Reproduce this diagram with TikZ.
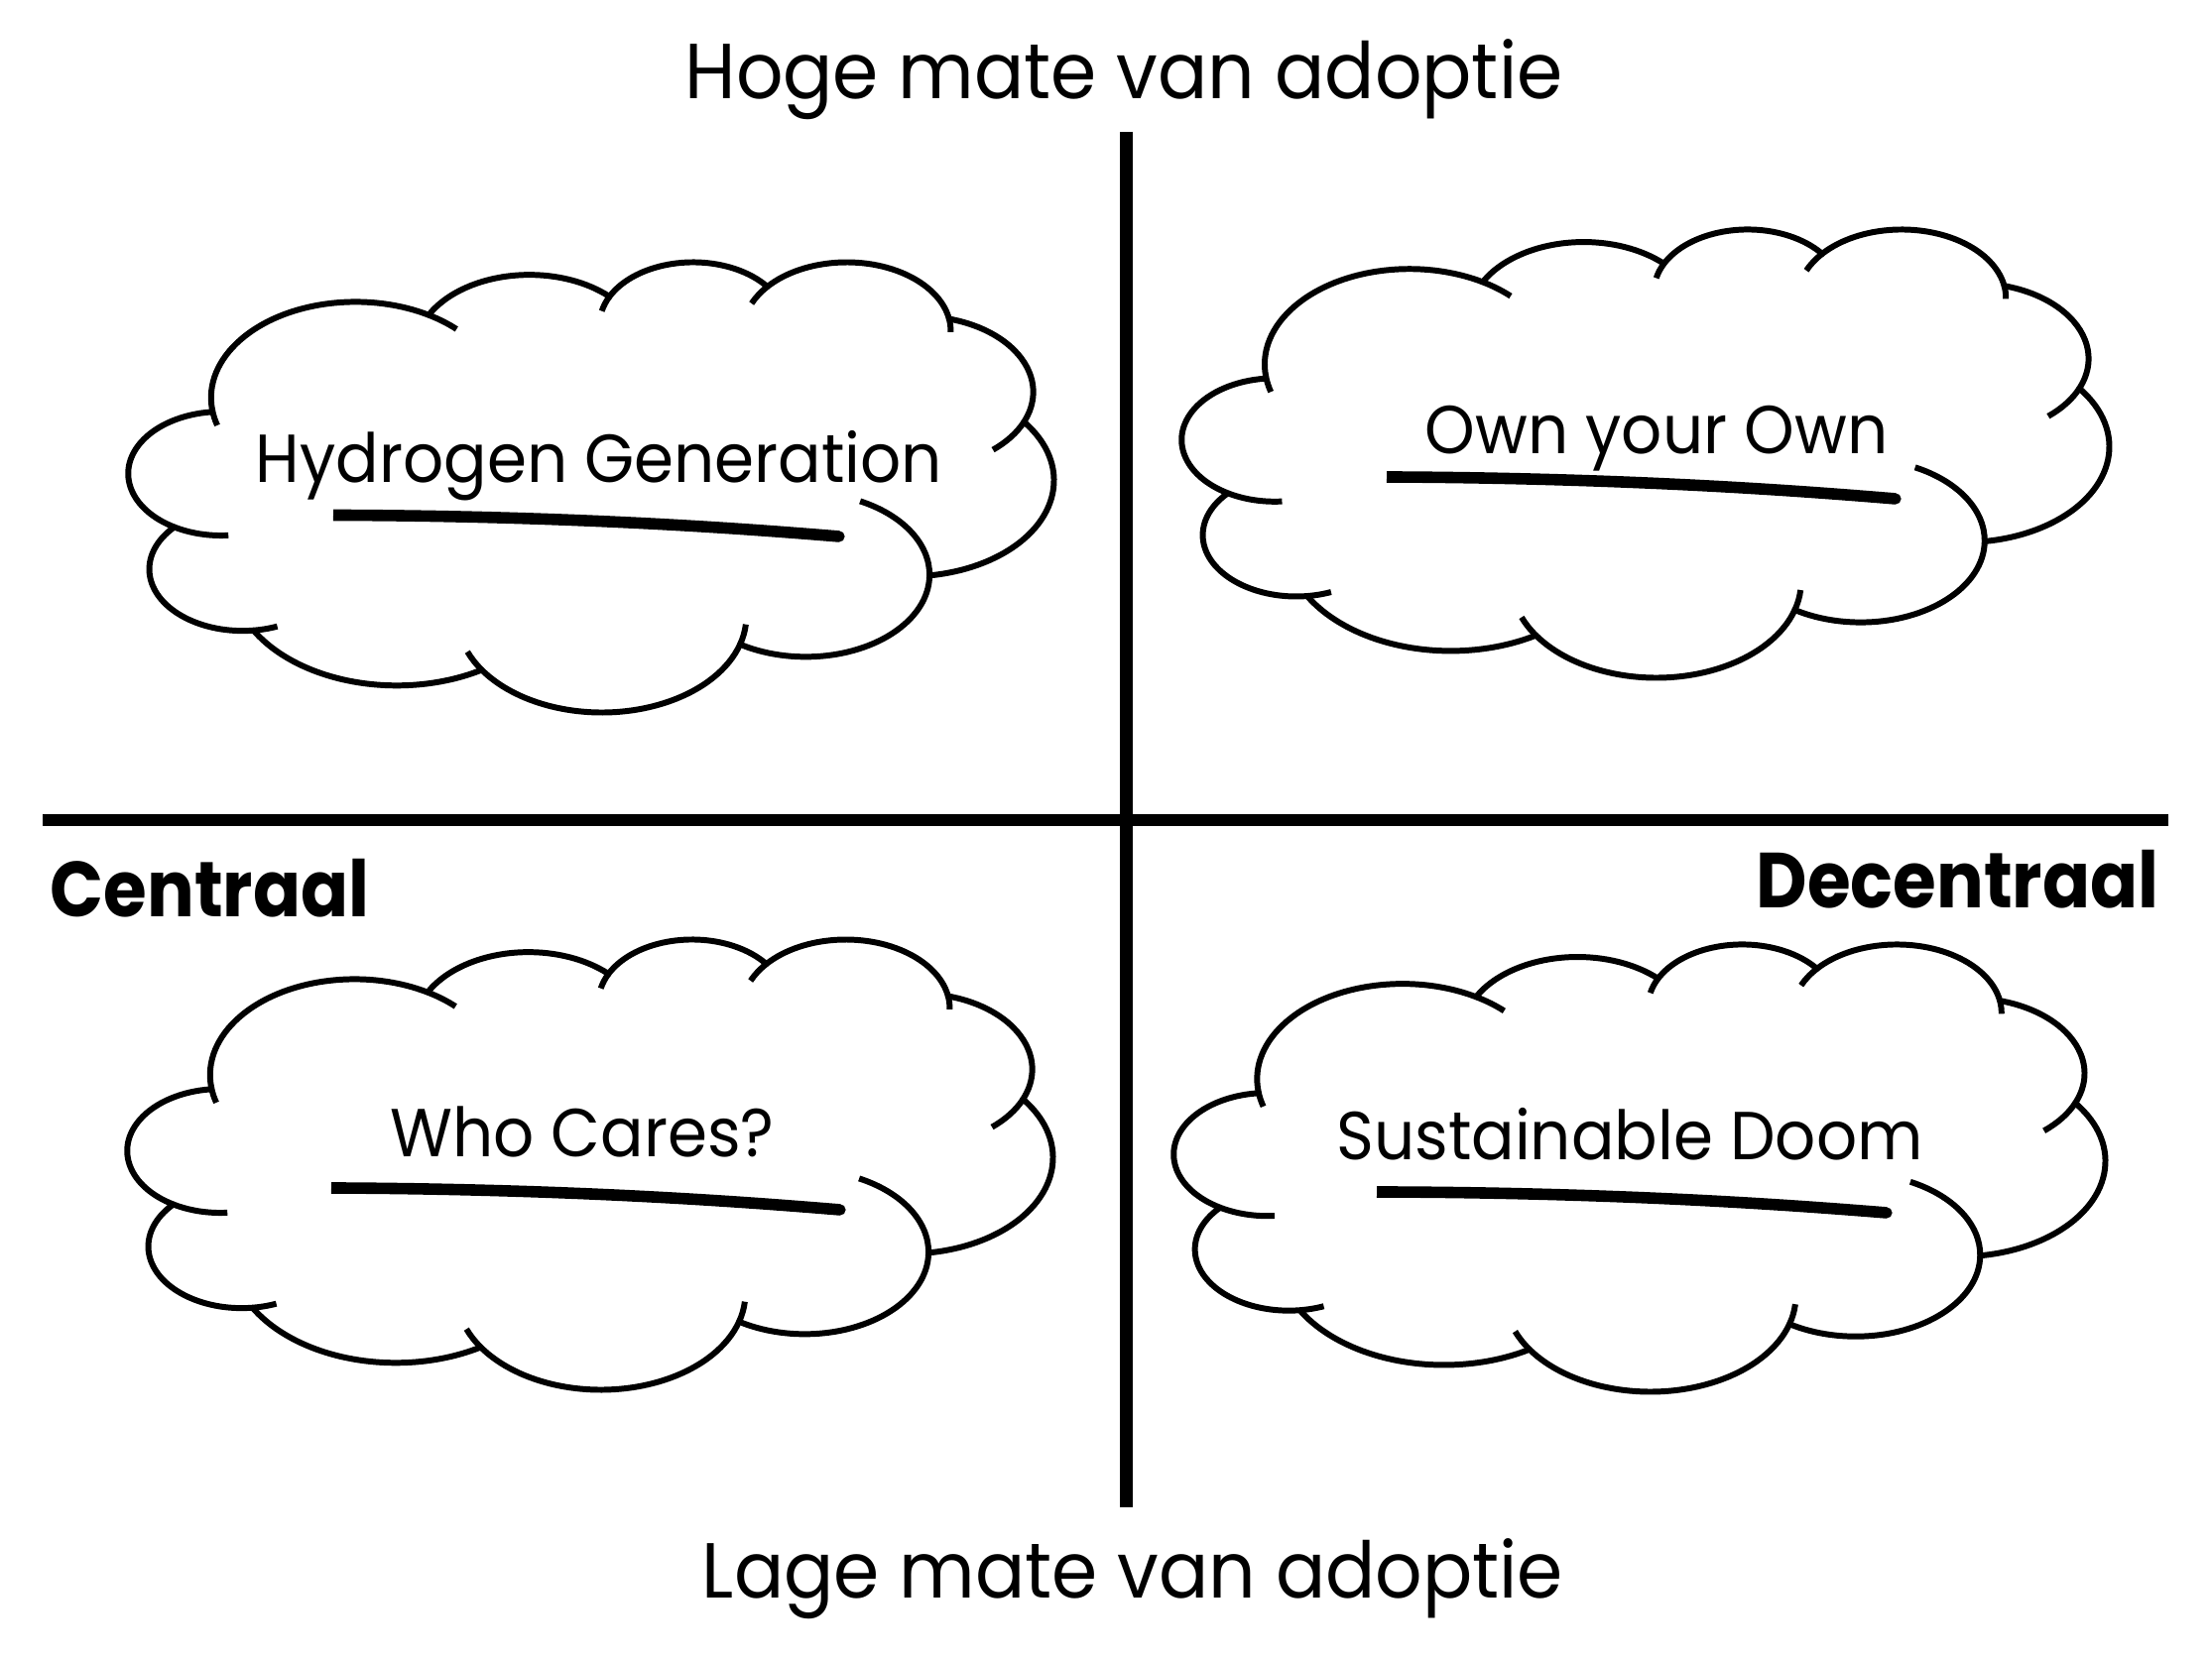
\documentclass[tikz,border=0pt]{standalone}
\usepackage{fontspec}
\setmainfont{Poppins}
\usepackage{tikz}
\usetikzlibrary{calc}
\tikzset{
    as/.style = {line width = 3.5pt},
    wolklijn/.style = {line width = 1.7pt, line join = round},
    streeplijn/.style = {line width = 3.3pt},
    kop/.style = {inner sep = 0pt, xscale = 0.945, transform shape, font = \fontsize{22.4}{26}\selectfont},
    zijkant/.style = {inner sep = 0pt, xscale = 0.9, transform shape, font = \fontsize{22.4}{26}\selectfont\bfseries},
    tekst/.style = {inner sep = 0pt, anchor = base, xscale = 0.94, transform shape, font = \fontsize{19.5}{23}\selectfont}
}
% wolk: #1,#2 hoek linksonder, #3 breedte, #4 hoogte
\newcommand{\wolk}[4]{
\begin{scope}[shift = {(#1,#2)}, xscale = #3/43.2, yscale = #4/43.2]
    \draw[wolklijn] (3.900,28.830) coordinate (p0)
        arc[start angle = 187.738, end angle = 59.635, x radius = 6.753, y radius = 9.190] coordinate (p1)
        arc[start angle = 152.02, end angle = 45.46, x radius = 5.333, y radius = 7.267] coordinate (p2)
        arc[start angle = 153.50, end angle = 37.32, x radius = 4.365, y radius = 5.945] coordinate (p3)
        arc[start angle = 139.81, end angle = 10.18, x radius = 4.857, y radius = 6.595] coordinate (p4)
        arc[start angle = 74.785, end angle = -23.23, x radius = 5.333, y radius = 7.273] coordinate (p5)
        arc[start angle = 37.50, end angle = -81.853, x radius = 6.775, y radius = 9.220] coordinate (p6)
        arc[start angle = -0.459, end angle = -122.027, x radius = 5.785, y radius = 7.867] coordinate (p7)
        arc[start angle = -16.873, end angle = -146.193, x radius = 6.752, y radius = 9.215] coordinate (p8)
        arc[start angle = -59.047, end angle = -150.126, x radius = 7.720, y radius = 10.543] coordinate (p9)
        arc[start angle = 276.718, end angle = 137.0, x radius = 4.360, y radius = 5.918] coordinate (p10)
        arc[start angle = 239.753, end angle = 95.862, x radius = 4.345, y radius = 5.945] -- cycle;
    % krulletjes bij de naden
    \draw[wolklijn] (p0) arc[start angle = 187.738, end angle = 196.79, x radius = 6.753, y radius = 9.190];
    \draw[wolklijn] (p1) arc[start angle = 59.635, end angle = 45.70, x radius = 6.753, y radius = 9.190];
    \draw[wolklijn] (p2) arc[start angle = 153.50, end angle = 167.73, x radius = 4.365, y radius = 5.945];
    \draw[wolklijn] (p3) arc[start angle = 139.81, end angle = 156.35, x radius = 4.857, y radius = 6.595];
    \draw[wolklijn] (p4) arc[start angle = 10.18, end angle = -0.818, x radius = 4.857, y radius = 6.595];
    \draw[wolklijn] (p5) arc[start angle = -23.23, end angle = -49.69, x radius = 5.333, y radius = 7.273];
    \draw[wolklijn] (p6) arc[start angle = -0.459, end angle = 63.95, x radius = 5.785, y radius = 7.867];
    \draw[wolklijn] (p7) arc[start angle = -16.873, end angle = -4.738, x radius = 6.752, y radius = 9.215];
    \draw[wolklijn] (p8) arc[start angle = -146.193, end angle = -158.44, x radius = 6.752, y radius = 9.215];
    \draw[wolklijn] (p9) arc[start angle = -83.282, end angle = -68.16, x radius = 4.360, y radius = 5.918];
    \draw[wolklijn] (p10) arc[start angle = 239.753, end angle = 274.436, x radius = 4.345, y radius = 5.945];
\end{scope}
}
% streep onder de tekst: #1 begin, #2 eind
\newcommand{\streep}[2]{
    \draw[streeplijn] (#1) .. controls ($(#1)!0.5!(#2)+(0,0.1)$) and ($(#1)!0.85!(#2)+(0,0.03)$) .. (#2);
    \fill (#2) circle (1.6pt);
}

\begin{document}
\begin{tikzpicture}
    \useasboundingbox (0,0) rectangle (22.30,16.75);
    % assen
    \coordinate (boven) at (11.355,15.42);
    \coordinate (onder) at (11.355,1.55);
    \coordinate (links) at (0.43,8.48);
    \coordinate (rechts) at (21.86,8.48);
    \draw[as] (boven) -- (onder);
    \draw[as] (links) -- (rechts);
    % labels van de assen
    \node[kop, anchor = base] (hoog) at (11.33,15.75) {Hoge mate van adoptie};
    \node[kop, anchor = base] (laag) at (11.42,0.63) {Lage mate van adoptie};
    \node[zijkant, anchor = base west] (centraal) at (0.50,7.50) {Centraal};
    \node[zijkant, anchor = base east] (decentraal) at (21.77,7.59) {Decentraal};
    % wolken
    \wolk{1.30}{9.58}{9.32}{4.54}
    \wolk{11.92}{9.93}{9.34}{4.52}
    \wolk{1.29}{2.75}{9.32}{4.54}
    \wolk{11.84}{2.73}{9.38}{4.51}
    % scenario's
    \node[tekst] (hydrogen) at (6.04,11.88) {Hydrogen Generation};
    \node[tekst] (own) at (16.70,12.17) {Own your Own};
    \node[tekst] (who) at (5.87,5.08) {Who Cares?};
    \node[tekst] (doom) at (16.43,5.05) {Sustainable Doom};
    % strepen
    \coordinate (s1a) at (3.36,11.555);
    \coordinate (s1b) at (8.46,11.34);
    \coordinate (s2a) at (13.98,11.94);
    \coordinate (s2b) at (19.11,11.72);
    \coordinate (s3a) at (3.34,4.77);
    \coordinate (s3b) at (8.47,4.55);
    \coordinate (s4a) at (13.88,4.73);
    \coordinate (s4b) at (19.02,4.52);
    \streep{s1a}{s1b}
    \streep{s2a}{s2b}
    \streep{s3a}{s3b}
    \streep{s4a}{s4b}
\end{tikzpicture}
\end{document}
